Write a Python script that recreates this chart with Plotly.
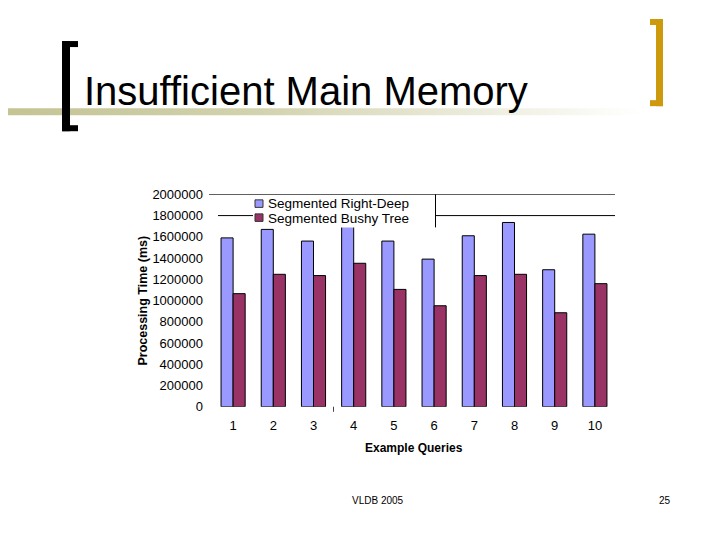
import plotly.graph_objects as go

# =========================
# Data
# =========================
queries = ["1", "2", "3", "4", "5", "6", "7", "8", "9", "10"]
right_deep = [1590000, 1670000, 1560000, 1700000, 1560000, 1390000, 1610000, 1735000, 1290000, 1625000]
bushy_tree = [1065000, 1247000, 1235000, 1351000, 1105000, 951000, 1235000, 1247000, 885000, 1159000]
series_names = ["Segmented Right-Deep", "Segmented Bushy Tree"]
y_ticks = [0, 200000, 400000, 600000, 800000, 1000000, 1200000, 1400000, 1600000, 1800000, 2000000]
y_tick_text = [str(v) for v in y_ticks]

BLUE = "#9999FF"
PURPLE = "#993366"
GOLD = "#CC9A0C"
FONT = "Liberation Sans, Arial, sans-serif"

# the page puts the figure a little in from the corner and squeezes it in height,
# so the overlay axes x2/y2 are set up to map straight onto screen pixels
X0, X1 = 8, 728
Y0, Y1 = 15, 539


def dom_x(px):
    return (px - X0) / (X1 - X0)


def dom_y(py):
    return 1 - (py - Y0) / (Y1 - Y0)


# plot box of the chart, in screen pixels
PL, PR, PT, PB = 213, 615, 194, 406

fig = go.Figure()

fig.add_trace(go.Bar(x=queries, y=right_deep, name=series_names[0],
                     marker=dict(color=BLUE, line=dict(color="black", width=1)),
                     showlegend=False))
fig.add_trace(go.Bar(x=queries, y=bushy_tree, name=series_names[1],
                     marker=dict(color=PURPLE, line=dict(color="black", width=1)),
                     showlegend=False))

# slide decoration: fading olive rule under the title
fig.add_trace(go.Scatter(
    x=[0, 640, 640, 0, 0], y=[108, 108, 115, 115, 108],
    xaxis="x2", yaxis="y2", mode="lines", line=dict(width=0),
    fill="toself",
    fillgradient=dict(type="horizontal",
                      colorscale=[[0, "#C3C393"], [0.4, "#D2D2AE"], [1, "#FFFFFF"]]),
    hoverinfo="skip", showlegend=False,
))

shapes = []


def rect(x0, y0, x1, y1, color, layer="above"):
    shapes.append(dict(type="rect", xref="x2", yref="y2", x0=x0, y0=y0, x1=x1, y1=y1,
                       fillcolor=color, line=dict(width=0), layer=layer))


# brackets
rect(62, 41, 70, 131, "black")
rect(62, 41, 78, 47, "black")
rect(62, 125, 78, 131, "black")
rect(656, 19, 663, 106, GOLD)
rect(650, 19, 663, 25, GOLD)
rect(650, 100, 663, 106, GOLD)

# the two visible gridlines
shapes.append(dict(type="line", xref="x2", yref="y", x0=209, x1=PR, y0=2000000, y1=2000000,
                   line=dict(color="black", width=1)))
shapes.append(dict(type="line", xref="x2", yref="y", x0=218, x1=PR, y0=1800000, y1=1800000,
                   line=dict(color="black", width=1)))

# legend box
rect(253, 195, 435, 227, "white")
shapes.append(dict(type="line", xref="x2", yref="y2", x0=435.5, x1=435.5, y0=194, y1=227,
                   line=dict(color="black", width=1)))
shapes.append(dict(type="rect", xref="x2", yref="y2", x0=255, x1=263, y0=199.5, y1=207,
                   fillcolor=BLUE, line=dict(color="#333333", width=1)))
shapes.append(dict(type="rect", xref="x2", yref="y2", x0=255, x1=263, y0=213.5, y1=221,
                   fillcolor=PURPLE, line=dict(color="#333333", width=1)))

# stray tick under the axis
shapes.append(dict(type="line", xref="x2", yref="y2", x0=333.5, x1=333.5, y0=406, y1=411,
                   line=dict(color="#444444", width=1)))

annotations = [
    dict(text="Insufficient Main Memory", x=82, y=91, xref="x2", yref="y2",
         xanchor="left", yanchor="middle", showarrow=False,
         font=dict(family=FONT, size=40, color="black")),
    dict(text=series_names[0], x=266, y=203, xref="x2", yref="y2",
         xanchor="left", yanchor="middle", showarrow=False,
         font=dict(family=FONT, size=13.5, color="black")),
    dict(text=series_names[1], x=266, y=218, xref="x2", yref="y2",
         xanchor="left", yanchor="middle", showarrow=False,
         font=dict(family=FONT, size=13.5, color="black")),
    dict(text="<b>Processing Time (ms)</b>", x=143, y=300, xref="x2", yref="y2",
         textangle=-90, xanchor="center", yanchor="middle", showarrow=False,
         font=dict(family=FONT, size=12.5, color="black")),
    dict(text="<b>Example Queries</b>", x=414, y=447, xref="x2", yref="y2",
         xanchor="center", yanchor="middle", showarrow=False,
         font=dict(family=FONT, size=12, color="black")),
    dict(text="VLDB 2005", x=378, y=500, xref="x2", yref="y2",
         xanchor="center", yanchor="middle", showarrow=False,
         font=dict(family=FONT, size=10, color="black")),
    dict(text="25", x=665, y=500, xref="x2", yref="y2",
         xanchor="center", yanchor="middle", showarrow=False,
         font=dict(family=FONT, size=10, color="black")),
]

fig.update_layout(
    width=720, height=540,
    margin=dict(l=0, r=0, t=0, b=0),
    paper_bgcolor="white", plot_bgcolor="rgba(0,0,0,0)",
    barmode="group", bargap=0.40, bargroupgap=0,
    font=dict(family=FONT, size=13, color="black"),
    xaxis=dict(domain=[dom_x(PL), dom_x(PR)], anchor="y", showgrid=False, showline=False,
               zeroline=False, ticks="", ticklabelstandoff=9,
               tickfont=dict(size=13)),
    yaxis=dict(domain=[dom_y(PB), dom_y(PT)], anchor="x", range=[0, 2000000],
               tickvals=y_ticks, ticktext=y_tick_text, showgrid=False, showline=False,
               zeroline=False, ticks="", ticklabelstandoff=9, tickfont=dict(size=13)),
    xaxis2=dict(domain=[0, 1], range=[X0, X1], anchor="y2", visible=False, fixedrange=True),
    yaxis2=dict(domain=[0, 1], range=[Y1, Y0], anchor="x2", visible=False, fixedrange=True),
    shapes=shapes,
    annotations=annotations,
)

fig.write_html("out.html")
